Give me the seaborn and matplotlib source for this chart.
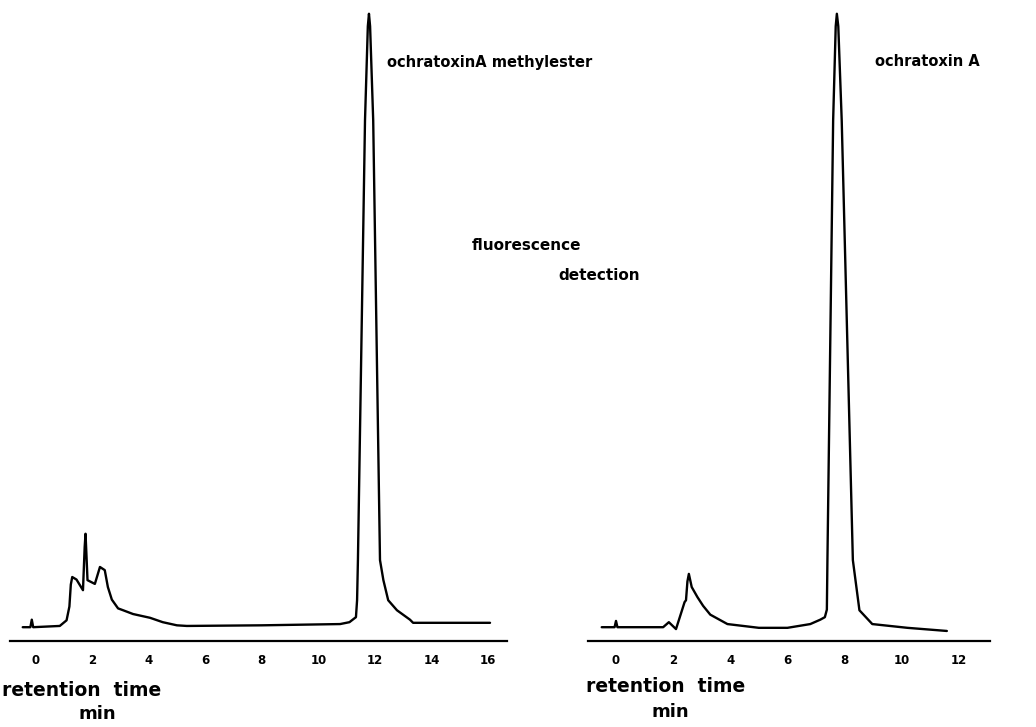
import numpy as np
import pandas as pd
import matplotlib
matplotlib.use("Agg")
import matplotlib.pyplot as plt
import seaborn as sns

# Chromatogram traces (time in min, detector signal in relative units)
ester_time = [-0.45, -0.18, -0.13, -0.08, 0.86, 1.1, 1.2, 1.25, 1.3, 1.45, 1.68, 1.74, 1.77, 1.8,
              1.84, 2.1, 2.28, 2.45, 2.56, 2.7, 2.92, 3.1, 3.45, 4.05, 4.5, 5.0, 5.35, 8.0, 10.77,
              11.1, 11.33, 11.37, 11.4, 11.65, 11.75, 11.79, 11.83, 11.94, 12.18, 12.3, 12.47,
              12.78, 13.24, 13.35, 16.07]
ester_signal = [2.2, 2.2, 3.4, 2.2, 2.4, 3.3, 5.5, 9.0, 10.2, 9.8, 8.1, 15.0, 17.1, 14.0,
                9.7, 9.1, 11.8, 11.3, 8.6, 6.6, 5.2, 4.9, 4.3, 3.7, 3.0, 2.5, 2.4, 2.5, 2.7,
                3.0, 3.8, 6.5, 12.9, 83.0, 98.0, 100.0, 98.0, 83.0, 12.9, 9.7, 6.5,
                4.9, 3.4, 2.9, 2.9]

ota_time = [-0.5, -0.05, 0.0, 0.05, 1.65, 1.85, 2.1, 2.31, 2.4, 2.45, 2.5, 2.55, 2.65, 2.85,
            3.05, 3.3, 3.9, 4.45, 5.0, 6.0, 6.8, 7.15, 7.31, 7.38, 7.4, 7.6, 7.69, 7.73, 7.78,
            7.9, 8.29, 8.52, 8.97, 10.2, 11.58]
ota_signal = [2.2, 2.2, 3.2, 2.2, 2.2, 3.0, 1.9, 4.9, 6.2, 6.5, 9.5, 10.7, 8.6, 7.0,
              5.6, 4.2, 2.7, 2.4, 2.1, 2.1, 2.7, 3.4, 3.8, 5.0, 12.9, 83.0, 98.0, 100.0, 98.0,
              83.0, 12.9, 4.9, 2.7, 2.1, 1.6]

ester_ticks = [0, 2, 4, 6, 8, 10, 12, 14, 16]
ota_ticks = [0, 2, 4, 6, 8, 10, 12]

sns.set_style("white")
plt.rcParams['font.family'] = ['DejaVu Sans']
plt.rcParams['font.weight'] = 'bold'
plt.rcParams['text.color'] = 'black'
plt.rcParams['xtick.color'] = 'black'

W, H = 1036, 727
fig = plt.figure(figsize=(W / 100, H / 100), dpi=100)

def px_axes(x0, x1, y_top, y_bottom):
    return fig.add_axes([x0 / W, 1 - y_bottom / H, (x1 - x0) / W, (y_bottom - y_top) / H])

ax1 = px_axes(10, 507, 10, 641)
ax2 = px_axes(588, 990, 10, 641)

ester = pd.DataFrame({'time': ester_time, 'signal': ester_signal})
ota = pd.DataFrame({'time': ota_time, 'signal': ota_signal})

for ax, df, ticks, xlim in [(ax1, ester, ester_ticks, (-0.9, 16.67)),
                            (ax2, ota, ota_ticks, (-0.98, 13.09))]:
    sns.lineplot(data=df, x='time', y='signal', ax=ax, color='black', linewidth=1.7,
                 estimator=None, sort=False)
    ax.set_xlim(*xlim)
    ax.set_ylim(0, 100.6)
    for side in ['top', 'left', 'right']:
        ax.spines[side].set_visible(False)
    ax.spines['bottom'].set_linewidth(1.6)
    ax.spines['bottom'].set_color('black')
    ax.set_xticks(ticks)
    ax.set_xticklabels([str(t) for t in ticks], fontsize=8.5, fontweight='bold', color='black')
    ax.tick_params(axis='x', direction='in', length=4, width=1.4, pad=9, colors='black')
    ax.set_yticks([])
    ax.set_xlabel('')
    ax.set_ylabel('')
    ax.patch.set_alpha(0)

def label(x, y, s, size, ha='left'):
    fig.text(x / W, 1 - y / H, s, fontsize=size, fontweight='bold', ha=ha, va='center',
             color='black')

label(387, 62, 'ochratoxinA methylester', 10.5)
label(875, 62, 'ochratoxin A', 10.5)
label(472, 245, 'fluorescence', 11)
label(558, 275, 'detection', 11)
label(2, 690, 'retention  time', 13.5)
label(97, 714, 'min', 13, ha='center')
label(586, 686, 'retention  time', 13.5)
label(670, 712, 'min', 13, ha='center')

fig.savefig('out.png', dpi=100)
